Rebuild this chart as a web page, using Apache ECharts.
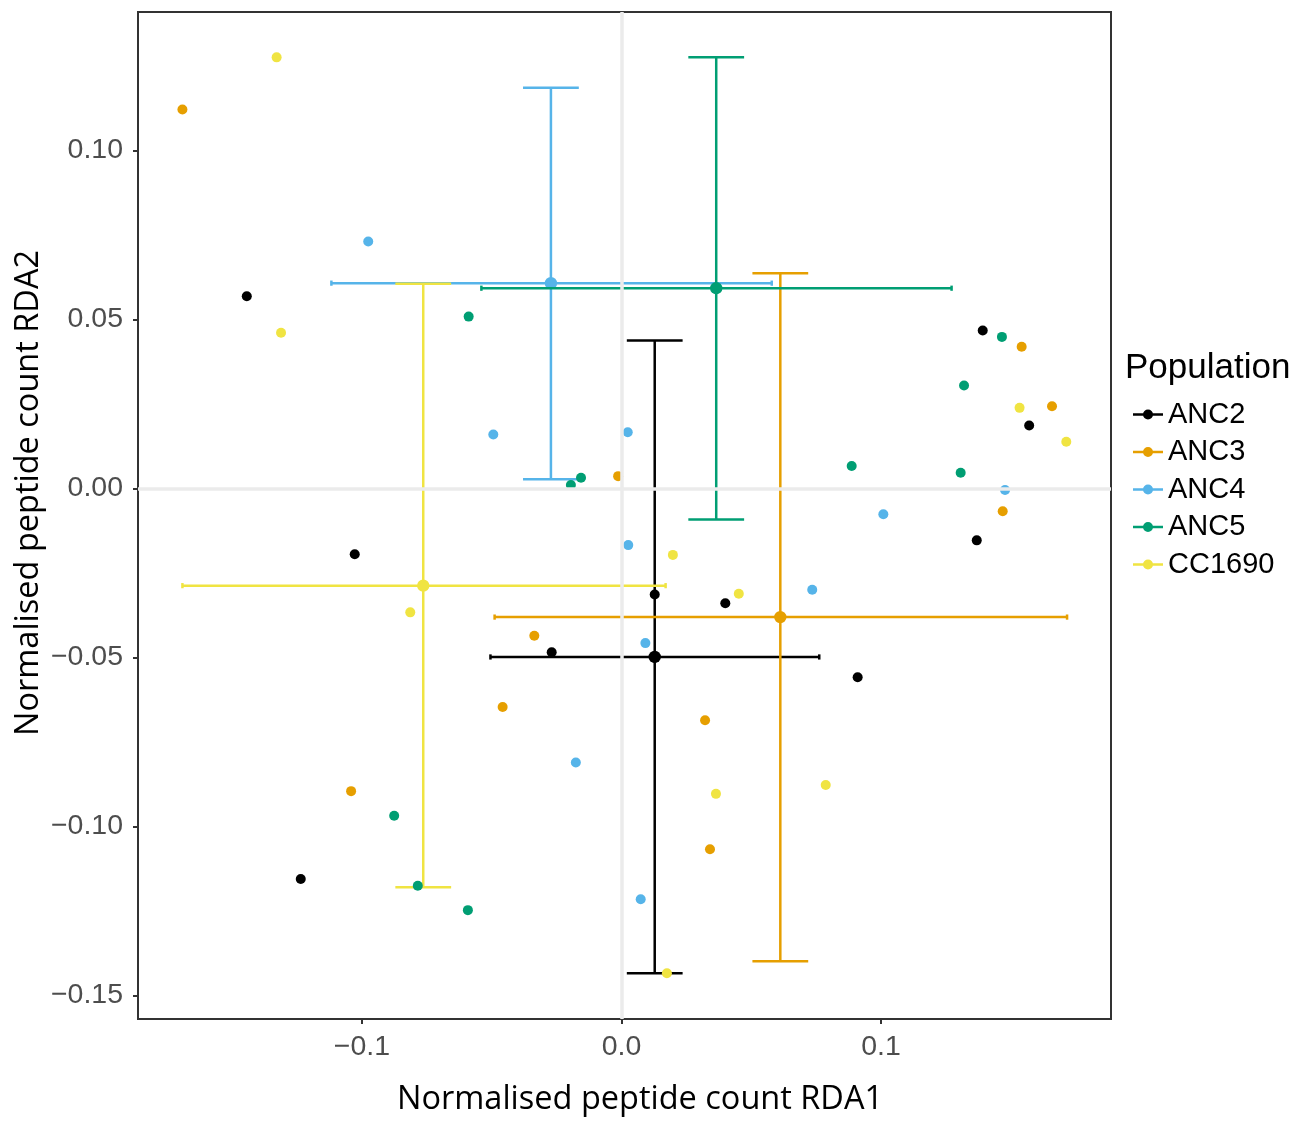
<!DOCTYPE html>
<html>
<head>
<meta charset="utf-8">
<script src="https://cdn.jsdelivr.net/npm/echarts@6/dist/echarts.min.js"></script>
<style>
html,body{margin:0;padding:0;background:#fff;}
#chart{width:1309px;height:1121px;}
</style>
</head>
<body>
<div id="chart"></div>
<script>
// ---- data ----
const populations = ['ANC2', 'ANC3', 'ANC4', 'ANC5', 'CC1690'];

const ANC2 = [[-0.1444,0.0568],[0.1392,0.0467],[0.1571,0.0186],[0.1369,-0.0154],[0.0128,-0.0314],[0.0400,-0.0340],[0.0910,-0.0559],[-0.1028,-0.0195],[-0.0269,-0.0485],[-0.1236,-0.1156]];
const ANC3 = [[-0.1692,0.1121],[-0.0013,0.0036],[0.1542,0.0419],[0.1659,0.0243],[0.1469,-0.0068],[0.0322,-0.0686],[0.0341,-0.1068],[-0.0336,-0.0436],[-0.0458,-0.0647],[-0.1042,-0.0896]];
const ANC4 = [[-0.0976,0.0730],[-0.0494,0.0159],[0.0024,0.0166],[0.1478,-0.0005],[0.1009,-0.0077],[0.0026,-0.0168],[0.0735,-0.0300],[0.0092,-0.0458],[0.0074,-0.1216],[-0.0176,-0.0811]];
const ANC5 = [[-0.0589,0.0508],[-0.0156,0.0031],[-0.0195,0.0010],[0.1466,0.0448],[0.1320,0.0304],[0.0887,0.0066],[0.1307,0.0046],[-0.0876,-0.0969],[-0.0785,-0.1176],[-0.0592,-0.1248]];
const CC1690 = [[-0.1329,0.1275],[-0.1312,0.0460],[0.1534,0.0238],[0.1714,0.0138],[0.0198,-0.0197],[0.0452,-0.0312],[0.0364,-0.0904],[0.0787,-0.0878],[0.0175,-0.1435],[-0.0814,-0.0367]];

// group means and error bar extents (same order as populations)
const meanX = [0.0128, 0.0612, -0.0272, 0.0365, -0.0764];
const meanY = [-0.0499, -0.0381, 0.0607, 0.0592, -0.0288];
const xLow  = [-0.0505, -0.0489, -0.1118, -0.0540, -0.1692];
const xHigh = [0.0762, 0.1717, 0.0579, 0.1272, 0.0170];
const yLow  = [-0.1435, -0.1399, 0.0027, -0.0092, -0.1180];
const yHigh = [0.0437, 0.0636, 0.1185, 0.1275, 0.0605];

const xTickValues = [-0.1, 0, 0.1];
const xTickLabels = ['\u22120.1', '0.0', '0.1'];
const yTickValues = [-0.15, -0.1, -0.05, 0, 0.05, 0.1];
const yTickLabels = ['\u22120.15', '\u22120.10', '\u22120.05', '0.00', '0.05', '0.10'];

// ---- styles ----
const colors = ['#000000', '#E69F00', '#56B4E9', '#009E73', '#F0E442'];
const pointSets = [ANC2, ANC3, ANC4, ANC5, CC1690];
const capWidth = 0.0215;
const tickFont = 'Liberation Sans, Arial, Helvetica, sans-serif';
const titleFont = '"Open Sans", "Noto Sans", sans-serif';

function fmt(values, labels) {
  return function (v) {
    for (let i = 0; i < values.length; i++) {
      if (Math.abs(values[i] - v) < 1e-9) return labels[i];
    }
    return '';
  };
}

const errData = populations.map((p, i) => [meanX[i], meanY[i], xLow[i], xHigh[i], yLow[i], yHigh[i], i]);

const legendIcon = 'path://M0,3.7 L30,3.7 L30,6.3 L0,6.3 Z M20,5 A5,5 0 1,1 10,5 A5,5 0 1,1 20,5 Z';

const chart = echarts.init(document.getElementById('chart'), null, {renderer: 'canvas'});

const series = [];
series.push({
  type: 'line',
  data: [],
  z: 1,
  silent: true,
  markLine: {
    silent: true,
    symbol: 'none',
    label: {show: false},
    lineStyle: {color: '#EBEBEB', width: 3.5, type: 'solid'},
    data: [{xAxis: 0}, {yAxis: 0}]
  }
});
series.push({
  type: 'custom',
  name: 'errorbars',
  z: 2,
  silent: true,
  data: errData,
  renderItem: function (params, api) {
    const mx = api.value(0), my = api.value(1);
    const xl = api.value(2), xh = api.value(3), yl = api.value(4), yh = api.value(5);
    const idx = api.value(6);
    const color = colors[idx];
    const c = api.coord([mx, my]);
    const pl = api.coord([xl, my]);
    const ph = api.coord([xh, my]);
    const pb = api.coord([mx, yl]);
    const pt = api.coord([mx, yh]);
    const half = api.size([capWidth, 0])[0] / 2;
    const st = {stroke: color, lineWidth: 2.5, fill: null};
    const hcap = 2.6;
    return {
      type: 'group',
      children: [
        {type: 'line', shape: {x1: pb[0], y1: pb[1], x2: pt[0], y2: pt[1]}, style: st},
        {type: 'line', shape: {x1: pt[0] - half, y1: pt[1], x2: pt[0] + half, y2: pt[1]}, style: st},
        {type: 'line', shape: {x1: pb[0] - half, y1: pb[1], x2: pb[0] + half, y2: pb[1]}, style: st},
        {type: 'line', shape: {x1: pl[0], y1: pl[1], x2: ph[0], y2: ph[1]}, style: st},
        {type: 'line', shape: {x1: pl[0], y1: pl[1] - hcap, x2: pl[0], y2: pl[1] + hcap}, style: st},
        {type: 'line', shape: {x1: ph[0], y1: ph[1] - hcap, x2: ph[0], y2: ph[1] + hcap}, style: st},
        {type: 'circle', shape: {cx: c[0], cy: c[1], r: 6.2}, style: {fill: color, stroke: null}}
      ]
    };
  }
});
populations.forEach((p, i) => {
  series.push({
    type: 'scatter',
    name: p,
    z: 3,
    data: pointSets[i],
    symbol: 'circle',
    symbolSize: 10,
    itemStyle: {color: colors[i], opacity: 1},
    emphasis: {disabled: true}
  });
});

const option = {
  animation: false,
  backgroundColor: '#ffffff',
  grid: {
    left: 138, right: 198, top: 12, bottom: 102,
    show: true, borderColor: '#333333', borderWidth: 2, backgroundColor: '#ffffff',
    containLabel: false
  },
  xAxis: {
    type: 'value',
    min: -0.18632, max: 0.18863,
    axisLine: {show: true, onZero: false, lineStyle: {color: '#333333', width: 2}},
    axisTick: {show: true, customValues: xTickValues, length: 5, lineStyle: {color: '#333333', width: 2}},
    axisLabel: {show: true, customValues: xTickValues, formatter: fmt(xTickValues, xTickLabels), margin: 14,
      color: '#4D4D4D', fontSize: 28.5, fontFamily: tickFont},
    splitLine: {show: false}
  },
  yAxis: {
    type: 'value',
    min: -0.15701, max: 0.14092,
    axisLine: {show: true, onZero: false, lineStyle: {color: '#333333', width: 2}},
    axisTick: {show: true, customValues: yTickValues, length: 5, lineStyle: {color: '#333333', width: 2}},
    axisLabel: {show: true, customValues: yTickValues, formatter: fmt(yTickValues, yTickLabels), margin: 15,
      color: '#4D4D4D', fontSize: 28.5, fontFamily: tickFont},
    splitLine: {show: false}
  },
  legend: {
    data: populations.map(p => ({name: p, icon: legendIcon})),
    orient: 'vertical',
    left: 1128,
    top: 395,
    itemWidth: 30,
    itemHeight: 10,
    itemGap: 8.5,
    itemTextGap: 6,
    selectedMode: false,
    textStyle: {color: '#000000', fontSize: 29, lineHeight: 28.5, fontFamily: tickFont}
  },
  graphic: [
    {type: 'text', left: 1125, top: 351, style: {text: 'Population', fill: '#000', font: '35px ' + tickFont}},
    {type: 'text', x: 640, y: 1100, style: {text: 'Normalised peptide count RDA1', fill: '#000',
      font: '32.5px ' + titleFont, textAlign: 'center', textVerticalAlign: 'middle'}},
    {type: 'text', x: 29, y: 493, rotation: Math.PI / 2, style: {text: 'Normalised peptide count RDA2', fill: '#000',
      font: '32.5px ' + titleFont, textAlign: 'center', textVerticalAlign: 'middle'}}
  ],
  series: series
};
chart.setOption(option);
</script>
</body>
</html>
